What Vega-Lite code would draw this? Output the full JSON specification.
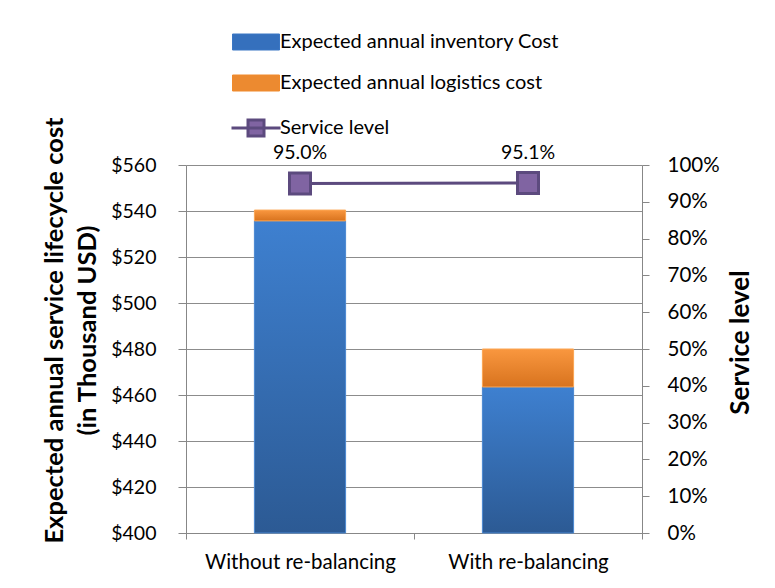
{
  "$schema": "https://vega.github.io/schema/vega-lite/v6.json",
  "width": 456,
  "height": 368,
  "autosize": {"type": "none"},
  "padding": {"left": 186, "top": 165, "right": 133, "bottom": 55},
  "background": "white",
  "config": {
    "view": {"stroke": null},
    "font": "Lato",
    "axis": {
      "labelFont": "Lato",
      "titleFont": "Lato",
      "labelColor": "#000000",
      "titleColor": "#000000",
      "domainColor": "#878787",
      "tickColor": "#878787",
      "gridColor": "#8c8c8c",
      "labelFontSize": 20,
      "titleFontSize": 25.5,
      "titleFontWeight": "bold"
    }
  },
  "datasets": {
    "costs": [
      {"scenario": "Without re-balancing", "series": "Expected annual inventory Cost", "cost": 535.7},
      {"scenario": "Without re-balancing", "series": "Expected annual logistics cost", "cost": 4.7},
      {"scenario": "With re-balancing", "series": "Expected annual inventory Cost", "cost": 463.5},
      {"scenario": "With re-balancing", "series": "Expected annual logistics cost", "cost": 16.5}
    ],
    "service": [
      {"scenario": "Without re-balancing", "series": "Service level", "level": 0.950},
      {"scenario": "With re-balancing", "series": "Service level", "level": 0.951}
    ]
  },
  "layer": [
    {
      "data": {"name": "costs"},
      "transform": [
        {"stack": "cost", "groupby": ["scenario"], "sort": [{"field": "series", "order": "ascending"}], "as": ["c0", "c1"]}
      ],
      "encoding": {
        "x": {
          "field": "scenario",
          "type": "nominal",
          "sort": ["Without re-balancing", "With re-balancing"],
          "scale": {"paddingInner": 0, "paddingOuter": 0},
          "axis": {"title": null, "labelAngle": 0, "tickBand": "extent", "tickSize": 6, "labelPadding": 13, "labelFontSize": 20.5, "labelLimit": 300}
        },
        "y": {
          "field": "c1",
          "type": "quantitative",
          "scale": {"domain": [400, 560], "clamp": true, "nice": false, "zero": false},
          "axis": {
            "orient": "left",
            "values": [400, 420, 440, 460, 480, 500, 520, 540, 560],
            "format": "$.0f",
            "grid": true,
            "tickSize": 8,
            "labelPadding": 22,
            "labelFontSize": 19.5,
            "title": ["Expected annual service lifecycle cost", "(in Thousand USD)"],
            "titleLineHeight": 33,
            "titleX": -119,
            "titleY": 165
          }
        },
        "y2": {"field": "c0"}
      },
      "layer": [
        {
          "transform": [{"filter": "datum.series === 'Expected annual inventory Cost'"}],
          "mark": {
            "type": "bar",
            "width": {"band": 0.4},
            "strokeWidth": 1,
            "stroke": "#4a88d2",
            "fill": {"gradient": "linear", "x1": 0, "y1": 0, "x2": 0, "y2": 1, "stops": [{"offset": 0, "color": "#3e80d0"}, {"offset": 1, "color": "#2c5a94"}]}
          }
        },
        {
          "transform": [{"filter": "datum.series === 'Expected annual logistics cost'"}],
          "mark": {
            "type": "bar",
            "width": {"band": 0.4},
            "strokeWidth": 1,
            "stroke": "#fba552",
            "fill": {"gradient": "linear", "x1": 0, "y1": 0, "x2": 0, "y2": 1, "stops": [{"offset": 0, "color": "#f9973f"}, {"offset": 1, "color": "#d8731e"}]}
          }
        }
      ]
    },
    {
      "data": {"name": "service"},
      "encoding": {
        "x": {"field": "scenario", "type": "nominal", "sort": ["Without re-balancing", "With re-balancing"]},
        "y": {
          "field": "level",
          "type": "quantitative",
          "scale": {"domain": [0, 1], "nice": false},
          "axis": {
            "orient": "right",
            "values": [0, 0.1, 0.2, 0.3, 0.4, 0.5, 0.6, 0.7, 0.8, 0.9, 1],
            "format": ".0%",
            "grid": false,
            "tickSize": 7,
            "labelPadding": 18,
            "labelFontSize": 20.5,
            "title": "Service level",
            "titleFontSize": 26,
            "titleAngle": 270,
            "titleX": 111,
            "titleY": 177,
            "titleBaseline": "bottom"
          }
        }
      },
      "layer": [
        {
          "mark": {"type": "line", "strokeWidth": 3},
          "encoding": {
            "color": {
              "field": "series",
              "type": "nominal",
              "scale": {
                "domain": ["Expected annual inventory Cost", "Expected annual logistics cost", "Service level"],
                "range": ["#3a76c4", "#f08a2c", "#5c4a7e"]
              },
              "legend": {
                "orient": "none",
                "legendX": 60,
                "legendY": -133,
                "direction": "vertical",
                "title": null,
                "padding": 0,
                "symbolSize": 400,
                "labelFont": "Lato",
                "labelFontSize": 20,
                "labelColor": "#000000",
                "labelLimit": 400,
                "labelOffset": 14,
                "rowPadding": 21,
                "encode": {
                  "symbols": {
                    "update": {
                      "shape": {"signal": "datum.value === 'Service level' ? 'M-2.45,0L2.45,0M-0.8,-0.8L0.8,-0.8L0.8,0.8L-0.8,0.8Z' : 'M-2.35,-0.8L2.35,-0.8L2.35,0.8L-2.35,0.8Z'"},
                      "fill": {"signal": "datum.value === 'Expected annual inventory Cost' ? '#3570bd' : datum.value === 'Expected annual logistics cost' ? '#ec8a30' : '#8064a2'"},
                      "stroke": {"signal": "datum.value === 'Expected annual inventory Cost' ? '#4a88d2' : datum.value === 'Expected annual logistics cost' ? '#fba552' : '#5c4a7e'"},
                      "strokeWidth": {"signal": "datum.value === 'Service level' ? 3 : 1"},
                      "opacity": {"value": 1},
                      "fillOpacity": {"value": 1}
                    }
                  }
                }
              }
            }
          }
        },
        {
          "mark": {"type": "square", "size": 441, "filled": true, "fill": "#8064a2", "stroke": "#5c4a7e", "strokeWidth": 3, "opacity": 1}
        },
        {
          "mark": {"type": "text", "dy": -30, "fontSize": 19.5, "font": "Lato", "color": "#000000"},
          "encoding": {"text": {"field": "level", "type": "quantitative", "format": ".1%"}}
        }
      ]
    }
  ],
  "resolve": {"scale": {"y": "independent"}}
}
